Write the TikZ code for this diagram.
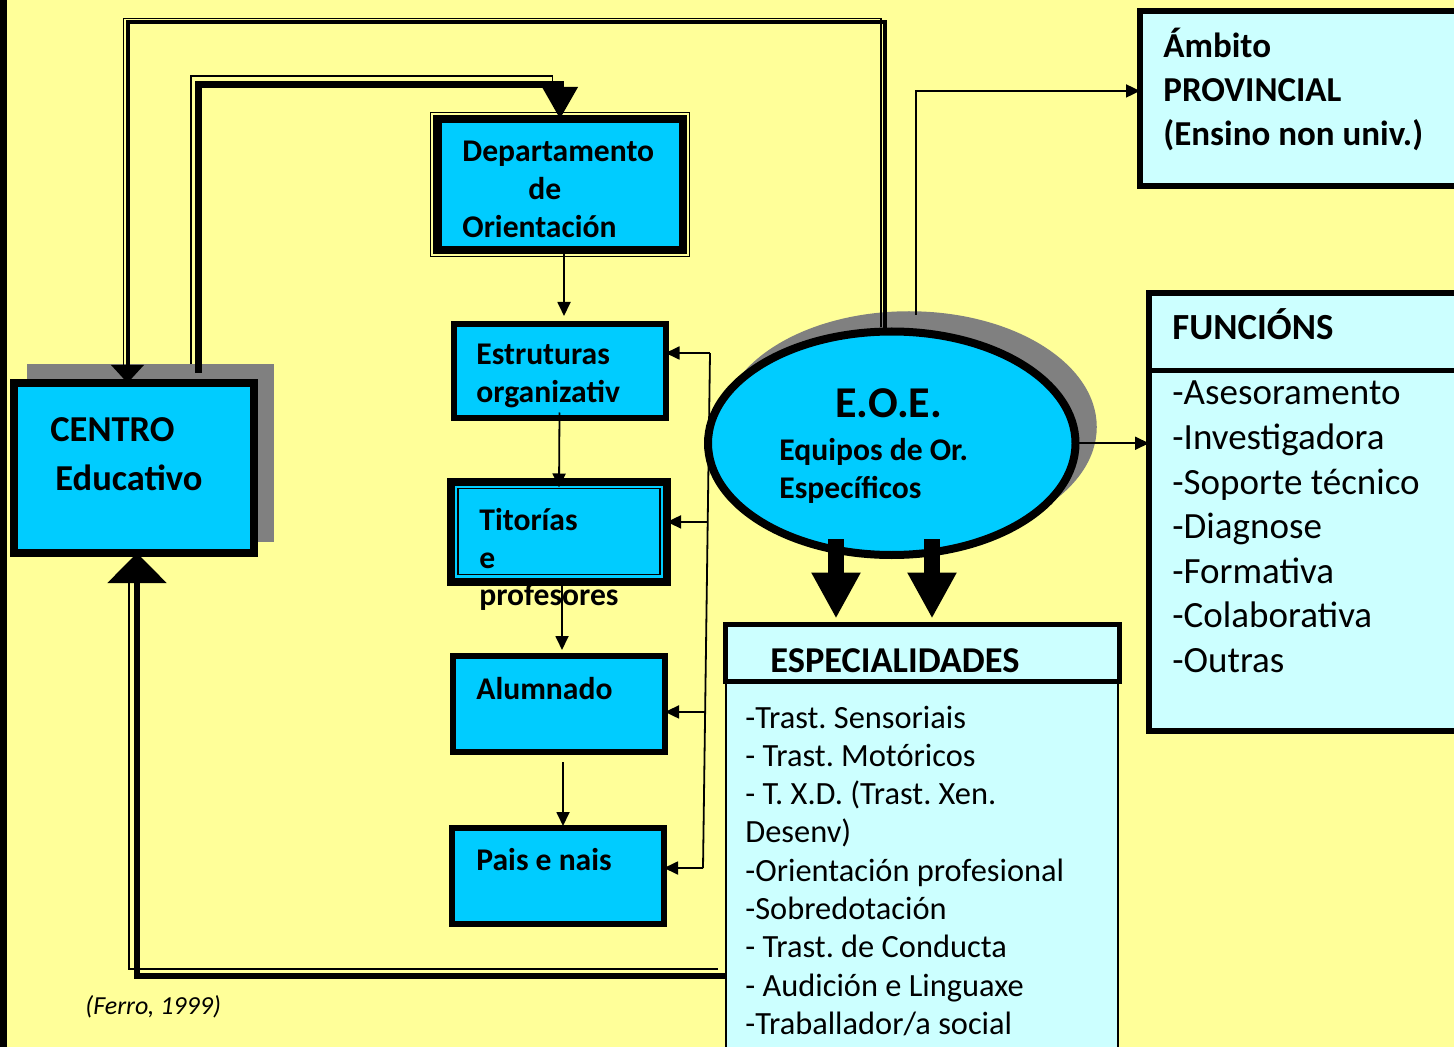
\documentclass[tikz,border=0pt]{standalone}
\usepackage{fontspec}
\setmainfont{Carlito}
\usetikzlibrary{shapes.geometric, arrows.meta, calc}
\frenchspacing

\definecolor{fondo}{HTML}{FFFF99}
\definecolor{ciano}{HTML}{00CCFF}
\definecolor{cianoclaro}{HTML}{CCFFFF}
\definecolor{sombra}{HTML}{808080}

\tikzset{
  caixa/.style={draw, fill=ciano, line width=3pt, inner sep=0pt, outer sep=0pt},
  caixaclara/.style={draw, fill=cianoclaro, line width=3pt, inner sep=0pt, outer sep=0pt},
  texto/.style={anchor=base west, inner sep=0pt, font=\bfseries\fontsize{15.8}{19}\selectfont},
  lista/.style={anchor=base west, inner sep=0pt},
  fio/.style={line width=0.9pt, -{Triangle[width=6.5pt,length=7pt]}},
  frecha/.style={line width=8pt, -{Triangle[width=23pt,length=23pt]}},
  dobre/.style 2 args={preaction={draw, -, line width=0.6pt, shorten >=#2, transform canvas={shift={#1}}}},
}

\begin{document}
\begin{tikzpicture}[x=0.5pt,y=-0.5pt]
        \useasboundingbox (0,0) rectangle (1454,1047);
        \clip (0,0) rectangle (1454,1047);
        \fill[fondo] (0,0) rectangle (1454,1047);
        \fill[black] (0,0) rectangle (7,1047);
        % sombras
        \fill[sombra] (27,364) rectangle (274,542);
        \fill[sombra] (909,427) ellipse [x radius=187.75, y radius=115.75];
        % caixas
        \node[caixa, line width=4pt, minimum width=120pt, minimum height=85pt] (centro) at (134,468) {};
        \node[caixa, line width=4.25pt, minimum width=122.75pt, minimum height=65.5pt] (dept) at (560,184.5) {};
        \draw[line width=0.6pt] ($(dept.north west)+(-6.5,-6.5)$) rectangle ($(dept.south east)+(6.5,6.5)$);
        \node[caixa, minimum width=106pt, minimum height=47.25pt] (estr) at (559.5,371.25) {};
        \node[caixa, line width=4pt, minimum width=108pt, minimum height=50pt] (titor) at (559,531.5) {};
        \draw[line width=0.75pt] ($(titor.north west)+(7,7)$) rectangle ($(titor.south east)+(-7,-7)$);
        \node[caixa, minimum width=106pt, minimum height=48pt] (alum) at (559,704) {};
        \node[caixa, minimum width=106pt, minimum height=48pt] (pais) at (558,876) {};
        \node[caixa, ellipse, line width=4pt, minimum width=183.75pt, minimum height=111.75pt] (eoe) at (891.75,443.25) {};
        \node[caixaclara, minimum width=165pt, minimum height=87.25pt] (ambito) at (1305,98.75) {};
        \node[caixaclara, minimum width=160.5pt, minimum height=219pt] (func) at (1309.5,512) {};
        \coordinate (fsep) at (1149,370.5);
        \draw[line width=2.5pt] (fsep) -- (fsep -| func.east);
        \node[caixaclara, line width=1pt, anchor=north, minimum width=196pt, minimum height=200pt] (espcorpo) at (922,683) {};
        \node[caixaclara, line width=2.5pt, minimum width=197.25pt, minimum height=28.25pt] (esp) at (922.25,652.75) {};
        % liñas dobres
        \coordinate (cimaA) at (127.5,22.5);
        \coordinate (cimaB) at (885,22.5);
        \draw[line width=2pt, -{Triangle[width=16pt,length=9pt]}, dobre={(-2pt,2pt)}{6pt}]
            (eoe.north -| cimaB) -- (cimaB) -- (cimaA) -- (centro.north -| cimaA);
        \coordinate (cimaC) at (198.5,84.5);
        \coordinate (cimaD) at (560,84.5);
        \draw[line width=3.5pt, shorten <=5pt, -{Triangle[width=17pt,length=16pt]}, dobre={(-3.75pt,4.25pt)}{8pt}]
            (centro.north -| cimaC) -- (cimaC) -- (cimaD) -- (dept.north);
        \coordinate (baixo) at (137,976);
        \draw[line width=3pt, -{Triangle[width=29pt,length=15pt]}, dobre={(-4pt,3.5pt)}{12pt}]
            (espcorpo.west |- baixo) -- (baixo) -- (centro.south -| baixo);
        % frechas finas
        \draw[fio] ([xshift=12pt,yshift=8.25pt]eoe.north) |- ([yshift=3.9pt]ambito.west);
        \draw[fio] (eoe.east) -- (func.west |- eoe.east);
        \coordinate (fA) at (710,353);
        \coordinate (fD) at (703,868);
        \coordinate (fB) at ($(fA)!0.328!(fD)$);
        \coordinate (fC) at ($(fA)!0.697!(fD)$);
        \draw[line width=0.9pt] (fA) -- (fD);
        \draw[fio] (fA) -- (estr.east |- fA);
        \draw[fio] (fB) -- (titor.east |- fB);
        \draw[fio] (fC) -- (alum.east |- fC);
        \draw[fio] (fD) -- (pais.east |- fD);
        \draw[fio] ([xshift=2pt]dept.south) -- ([xshift=2.25pt,yshift=4pt]estr.north);
        \draw[fio] ([yshift=3pt]estr.south) -- ([yshift=-3pt]titor.north);
        \draw[fio] ([xshift=1.5pt]titor.south) -- ([xshift=1.5pt,yshift=3pt]alum.north);
        \draw[fio] ([xshift=2pt,yshift=-5pt]alum.south) -- ([xshift=2.5pt,yshift=1pt]pais.north);
        % frechas grosas
        \coordinate (fl1) at (836,539);
        \coordinate (fl2) at (932,539);
        \draw[frecha, shorten >=3pt] (fl1) -- (fl1 |- esp.north);
        \draw[frecha, shorten >=3pt] (fl2) -- (fl2 |- esp.north);
        % textos
        \node[texto, font=\bfseries\fontsize{18.25}{22}\selectfont] (centro-a) at (50,442) {CENTRO};
        \node[texto, font=\bfseries\fontsize{18.25}{22}\selectfont] (centro-b) at (55,490) {Educativo};
        \node[texto] (dept-a) at (462,162) {Departamento};
        \node[texto] (dept-b) at (528,200) {de};
        \node[texto] (dept-c) at (462,238) {Orientación};
        \node[texto] (estr-a) at (476,365) {Estruturas};
        \node[texto] (estr-b) at (476,402) {organizativ};
        \node[texto] (titor-a) at (479,530) {Titorías};
        \node[texto] (titor-b) at (479,568) {e};
        \node[texto] (titor-c) at (479,605) {profesores};
        \node[texto] (alum-a) at (476,699) {Alumnado};
        \node[texto] (pais-a) at (476,870) {Pais e nais};
        \node[texto, font=\bfseries\fontsize{22}{26}\selectfont] (eoe-a) at (835,418) {E.O.E.};
        \node[texto] (eoe-b) at (779,460) {Equipos de Or.};
        \node[texto] (eoe-c) at (779,498) {Específicos};
        \node[texto, font=\bfseries\fontsize{17.5}{21}\selectfont] (ambito-a) at (1163,58) {Ámbito};
        \node[texto, font=\bfseries\fontsize{17.5}{21}\selectfont] (ambito-b) at (1163,102) {PROVINCIAL};
        \node[texto, font=\bfseries\fontsize{17.5}{21}\selectfont] (ambito-c) at (1163,146) {(Ensino non univ.)};
        \node[texto, font=\bfseries\fontsize{18.4}{22}\selectfont] (func-a) at (1172,340) {FUNCIÓNS};
        \foreach \t [count=\i from 0] in {-Asesoramento, -Investigadora, -Soporte técnico, -Diagnose, -Formativa, -Colaborativa, -Outras}
            \node[lista, font=\fontsize{18.5}{22}\selectfont] (func-\i) at (1172,{405+44.5*\i}) {\t};
        \node[texto, font=\bfseries\fontsize{18.2}{22}\selectfont] (esp-a) at (770,672) {ESPECIALIDADES};
        \foreach \t [count=\i from 0] in {-Trast. Sensoriais, - Trast. Motóricos, - T. X.D. (Trast. Xen., Desenv), -Orientación profesional, -Sobredotación, - Trast. de Conducta, - Audición e Linguaxe, -Traballador/a social}
            \node[lista, font=\fontsize{16.2}{19}\selectfont] (esp-\i) at (745,{728+38.3*\i}) {\t};
        \node[lista, font=\itshape\fontsize{13}{16}\selectfont] (fonte) at (85,1014) {(Ferro, 1999)};
    \end{tikzpicture}
\end{document}
